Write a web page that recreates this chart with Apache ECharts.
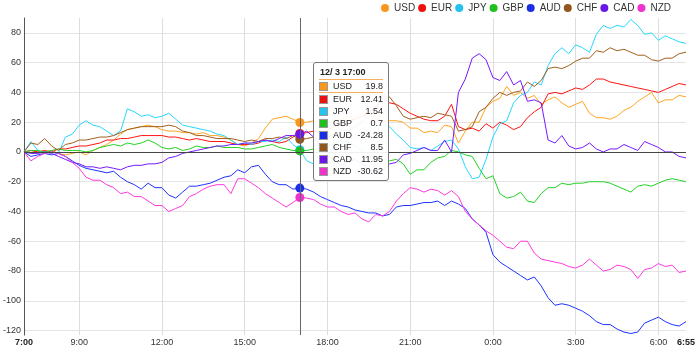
<!DOCTYPE html>
<html><head><meta charset="utf-8">
<script src="https://cdn.jsdelivr.net/npm/echarts@6/dist/echarts.min.js"></script>
<style>html,body{margin:0;padding:0;background:#fff}#c{width:700px;height:358px}</style>
</head><body><div id="c"></div>
<script>
const currencies = ['USD','EUR','JPY','GBP','AUD','CHF','CAD','NZD'];
const colors = ['#f8961e','#ee1111','#22c4ee','#1fbf1f','#1a2ee8','#93561a','#6b17ea','#ee33cc'];
const tickLabels = ['7:00','9:00','12:00','15:00','18:00','21:00','0:00','3:00','6:00','6:55'];
const gridTimes = ['9:00','12:00','15:00','18:00','21:00','0:00','3:00','6:00'];
const boldLabels = ['7:00','6:55'];
const tooltipDate = '12/ 3';
const tooltipIndex = 40;

// 15-minute time slots from 7:00 to 6:45, then 6:55
const times = [];
for (let m = 0; m < 1440; m += 15) {
  const t = 420 + m;
  times.push(Math.floor(t / 60) % 24 + ':' + String(t % 60).padStart(2, '0'));
}
times.push('6:55');

const usd = [0,1,0,-1,1,-1,-2,-1,0,-2, 1,3,5,8,12,15,16,17,18,17, 15,14,14,13,13,12,13,11,11,10,
  8,5,4,6,9,16,22,23,24,22, 19.8,20,21,20,19,21,22,24,23,26, 25,22,21,21,21,20,16,16,13,14,
  13,18,17,6,14,20,20,30,34,36, 44,38,40,36,38,32,35,37,33,30, 32,34,26,23,23,22,24,28,30,34,
  37,40,33,35,35,38,37];
const eur = [0,1,0,1,0,2,2,3,4,4, 5,6,8,8,9,9,10,11,11,11, 11,10,10,9,8,9,8,7,7,7,
  6,5,5,5,6,8,7,6,7,10, 12.41,13,14,13,15,17,19,21,22,24, 26,30,37,33,32,29,26,24,22,21,
  21,24,32,17,15,16,14,19,16,20, 18,15,17,23,27,30,39,40,39,41, 43,42,45,49,49,47,46,45,44,43,
  42,41,40,42,44,46,45];
const jpy = [0,7,1,-1,0,-1,10,12,18,21, 18,17,14,11,14,29,27,24,25,23, 24,26,22,18,17,16,15,14,12,11,
  8,5,6,5,7,7,8,7,10,5, 1.54,-6,-8,-5,-2,2,5,8,10,12, 14,17,18,17,12,8,3,2,3,1,
  4,7,8,2,-10,-18,-17,-5,10,19, 21,33,38,40,47,45,58,66,70,66, 72,70,67,79,85,83,85,84,89,85,
  79,80,75,78,76,74,73];
const gbp = [0,1,1,0,1,2,1,1,1,0, 1,3,4,5,4,6,5,6,8,6, 3,2,3,1,2,4,3,3,4,3,
  3,3,2,2,3,4,5,3,2,1, 0.7,1,2,0,3,6,8,7,4,1, -2,-4,-8,-6,-5,-8,-15,-12,-12,-7,
  -4,-3,1,0,-2,-3,-11,-18,-16,-28, -31,-30,-27,-33,-34,-28,-24,-24,-21,-22, -21,-21,-20,-20,-20,-21,-23,-25,-27,-23,
  -22,-23,-21,-19,-18,-19,-20];
const aud = [0,-3,-2,-1,-2,-1,-3,-6,-9,-11, -12,-13,-14,-13,-17,-20,-22,-25,-21,-24, -24,-29,-31,-27,-23,-23,-22,-21,-19,-17,
  -16,-12,-14,-10,-9,-15,-20,-22,-22,-25, -24.28,-25,-27,-30,-32,-34,-36,-37,-39,-40, -41,-41,-43,-42,-37,-36,-36,-35,-34,-34,
  -33,-36,-33,-35,-38,-45,-49,-54,-69,-74, -77,-80,-83,-86,-84,-90,-98,-103,-102,-103, -105,-107,-110,-114,-116,-116,-119,-121,-122,-121,
  -115,-113,-111,-114,-116,-117,-114];
const chf = [0,6,5,9,4,1,5,6,8,8, 9,10,10,11,13,15,16,17,17,17, 17,18,17,14,13,11,11,10,9,9,
  9,8,7,8,7,9,9,10,9,11, 8.5,9,10,8,10,12,15,14,17,20, 24,28,38,37,31,24,22,23,24,23,
  26,25,24,14,15,17,27,30,36,40, 38,40,41,47,44,48,56,57,56,58, 61,63,63,68,67,70,68,69,67,65,
  65,62,61,63,63,66,67];
const cad = [0,-1,-1,0,-1,-3,-5,-7,-8,-10, -10,-11,-10,-11,-12,-10,-9,-9,-8,-8, -7,-4,-3,-1,0,1,2,3,4,4,
  5,5,6,6,7,8,7,9,11,11, 11.95,14,10,4,-2,-6,-9,-7,-5,-8, -12,-14,-13,-8,-7,-2,-1,1,3,1,
  1,8,0,40,49,63,66,62,50,48, 54,45,48,34,35,33,8,6,11,4, 2,3,6,2,0,2,2,5,3,1,
  7,5,3,0,0,-3,-4];
const nzd = [0,-6,-3,-1,0,-1,-3,-7,-11,-17, -19,-19,-22,-24,-28,-27,-30,-30,-33,-36, -36,-40,-38,-36,-30,-28,-25,-23,-22,-22,
  -28,-18,-18,-21,-24,-28,-31,-34,-37,-34, -30.62,-31,-32,-35,-37,-37,-40,-42,-41,-45, -47,-42,-43,-40,-33,-28,-24,-25,-27,-25,
  -26,-29,-26,-30,-40,-45,-49,-53,-56,-60, -64,-65,-60,-60,-68,-72,-73,-74,-75,-77, -78,-76,-72,-76,-80,-79,-76,-77,-79,-85,
  -79,-78,-75,-77,-76,-81,-80];

const seriesValues = [usd, eur, jpy, gbp, aud, chf, cad, nzd];
const FONT = '"Liberation Sans", Arial, sans-serif';

const chart = echarts.init(document.getElementById('c'), null, {renderer: 'canvas'});

const series = currencies.map((name, i) => {
  const s = {
    name, type: 'line', data: seriesValues[i],
    showSymbol: false, symbol: 'circle', symbolSize: 9,
    lineStyle: {width: 1, color: colors[i]},
    itemStyle: {color: colors[i]},
    emphasis: {scale: false, lineStyle: {width: 1}},
    animation: false, z: 3
  };
  if (i === 0) {
    s.markLine = {
      silent: true, symbol: 'none', label: {show: false}, animation: false,
      lineStyle: {color: '#444', type: 'solid', width: 1},
      emphasis: {disabled: true},
      data: [{yAxis: 0}]
    };
  }
  return s;
});

chart.setOption({
  animation: false,
  color: colors,
  textStyle: {fontFamily: FONT},
  grid: {left: 21, right: 14, top: 18, bottom: 23, containLabel: false},
  legend: {
    data: currencies, icon: 'circle', itemWidth: 8, itemHeight: 8, itemGap: 3,
    top: 3, right: 29, padding: 0,
    textStyle: {fontSize: 10, color: '#333', fontFamily: FONT}
  },
  tooltip: {
    trigger: 'axis', triggerOn: 'none', alwaysShowContent: true,
    position: [313, 62], transitionDuration: 0,
    backgroundColor: 'rgba(255,255,255,0.92)', borderColor: '#777', borderWidth: 1,
    padding: [3, 5, 3, 5],
    textStyle: {fontSize: 9, color: '#222', fontFamily: FONT},
    extraCssText: 'box-shadow:none;border-radius:3px;width:64px;line-height:12px;font-size:9px;',
    axisPointer: {type: 'line', animation: false, lineStyle: {color: '#666', width: 1, type: 'solid'}, label: {show: false}},
    formatter: params => {
      let h = '<div style="font-size:9px;font-family:Liberation Sans,Arial,sans-serif;line-height:12px;">' +
        '<div style="font-weight:bold;height:13px;padding-left:1px;">' + tooltipDate + ' ' + params[0].axisValue + '</div>';
      params.forEach(p => {
        const hl = p.seriesIndex === 0;
        h += '<div style="display:flex;align-items:center;height:12px;' +
          (hl ? 'border-top:1px solid #f8b060;border-bottom:1px solid #f8b060;' : '') + '">' +
          '<span style="display:inline-block;flex:none;width:9px;height:9px;box-sizing:border-box;border:1px solid #999;background:' + p.color + '"></span>' +
          '<span style="margin-left:5px;">' + p.seriesName + '</span>' +
          '<span style="margin-left:auto;">' + p.value + '</span></div>';
      });
      return h + '</div>';
    }
  },
  xAxis: {
    type: 'category', data: times, boundaryGap: false,
    axisLine: {show: false}, axisTick: {show: false},
    axisLabel: {
      interval: (idx, val) => tickLabels.includes(val) && (val !== '6:55' || idx === times.length - 1),
      margin: 3, fontSize: 9, color: '#333', fontFamily: FONT,
      formatter: v => boldLabels.includes(v) ? '{b|' + v + '}' : v,
      rich: {b: {fontWeight: 'bold', fontSize: 9, color: '#222', fontFamily: FONT}}
    },
    splitLine: {show: true, interval: (idx, val) => gridTimes.includes(val), lineStyle: {color: '#dddddd', width: 1}}
  },
  yAxis: {
    type: 'value', min: -123, max: 90, splitNumber: 10,
    axisLine: {show: true, lineStyle: {color: '#555', width: 1}},
    axisTick: {show: false},
    axisLabel: {fontSize: 9, color: '#333', margin: 3, showMinLabel: false, showMaxLabel: false, fontFamily: FONT},
    splitLine: {show: true, showMinLine: false, showMaxLine: false, lineStyle: {color: '#e4e4e4', width: 1}}
  },
  series
});

chart.dispatchAction({type: 'showTip', seriesIndex: 0, dataIndex: tooltipIndex});
</script>
</body></html>
